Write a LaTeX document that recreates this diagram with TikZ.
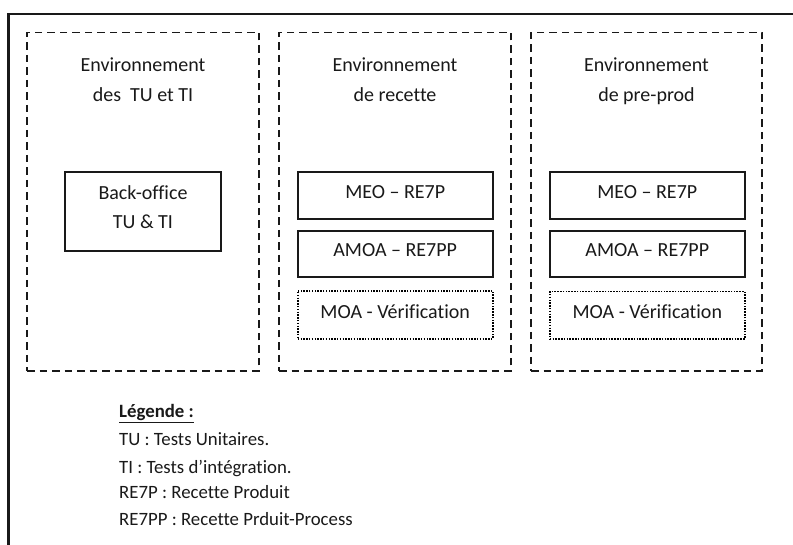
\documentclass[tikz,border=0pt]{standalone}
\usepackage{fontspec}
\setmainfont{Carlito}[Ligatures=NoCommon]
\begin{document}
\begin{tikzpicture}[x=1pt,y=-1pt,
  txt/.style={text=black!90, inner sep=0pt, anchor=base, font=\fontsize{20}{24}\selectfont},
  legtxt/.style={text=black!90, inner sep=0pt, anchor=base west, font=\fontsize{18.8}{22}\selectfont},
  envbox/.style={draw=black!90, line width=1.8pt, dash pattern=on 7.5pt off 5pt, inner sep=0pt},
  solidbox/.style={draw=black!90, line width=1.9pt, inner sep=0pt},
  dotbox/.style={draw=black, line width=1.7pt, dash pattern=on 1.5pt off 1.3pt, inner sep=0pt}]
\useasboundingbox (0,0) rectangle (793,545);
\coordinate (fb) at (8.5,546);
\coordinate (fc) at (8.5,14);
\coordinate (fr) at (794,14);
\draw[line width=2.2pt, black!90] (fb) -- (fc) -- (fr);
% environment boxes
\node[envbox, minimum width=232pt, minimum height=338.5pt] (env1) at (143,201.75) {};
\node[envbox, minimum width=232pt, minimum height=338.5pt] (env2) at (395,201.75) {};
\node[envbox, minimum width=231pt, minimum height=338.5pt] (env3) at (646.5,201.75) {};
% titles
\node[txt] (t1a) at (143,72) {Environnement};
\node[txt] (t1b) at (143,102) {des\ \ TU et TI};
\node[txt] (t2a) at (395,72) {Environnement};
\node[txt] (t2b) at (395,102) {de recette};
\node[txt] (t3a) at (646.5,72) {Environnement};
\node[txt] (t3b) at (646.5,102) {de pre-prod};
% back-office
\node[solidbox, minimum width=155.7pt, minimum height=79.3pt] (bo) at (143,211.35) {};
\node[txt] (bot1) at (143,199.3) {Back-office};
\node[txt] (bot2) at (143,229) {TU \& TI};
% recette
\node[solidbox, minimum width=195pt, minimum height=47pt] (meo2) at (395.2,195.8) {};
\node[txt] (meo2t) at (395.2,199) {MEO – RE7P};
\node[solidbox, minimum width=195pt, minimum height=46.3pt] (amoa2) at (395.2,254.15) {};
\node[txt] (amoa2t) at (395.2,256.7) {AMOA – RE7PP};
\node[dotbox, minimum width=195pt, minimum height=48.3pt] (moa2) at (395.2,314.85) {};
\node[txt] (moa2t) at (395.2,319) {MOA - Vérification};
% pre-prod
\node[solidbox, minimum width=195pt, minimum height=47pt] (meo3) at (647.3,195.8) {};
\node[txt] (meo3t) at (647.3,199) {MEO – RE7P};
\node[solidbox, minimum width=195pt, minimum height=46.3pt] (amoa3) at (647.3,254.15) {};
\node[txt] (amoa3t) at (647.3,256.7) {AMOA – RE7PP};
\node[dotbox, minimum width=195pt, minimum height=47.3pt] (moa3) at (647.3,315.3) {};
\node[txt] (moa3t) at (647.3,319) {MOA - Vérification};
% legend
\node[legtxt] (lg0) at (119,417.3) {\underline{\textbf{Légende :}}};
\node[legtxt] (lg1) at (119,446) {TU : Tests Unitaires.};
\node[legtxt] (lg2) at (119,473.3) {TI : Tests d’intégration.};
\node[legtxt] (lg3) at (119,498) {RE7P : Recette Produit};
\node[legtxt] (lg4) at (119,525.7) {RE7PP : Recette Prduit-Process};
\end{tikzpicture}
\end{document}
